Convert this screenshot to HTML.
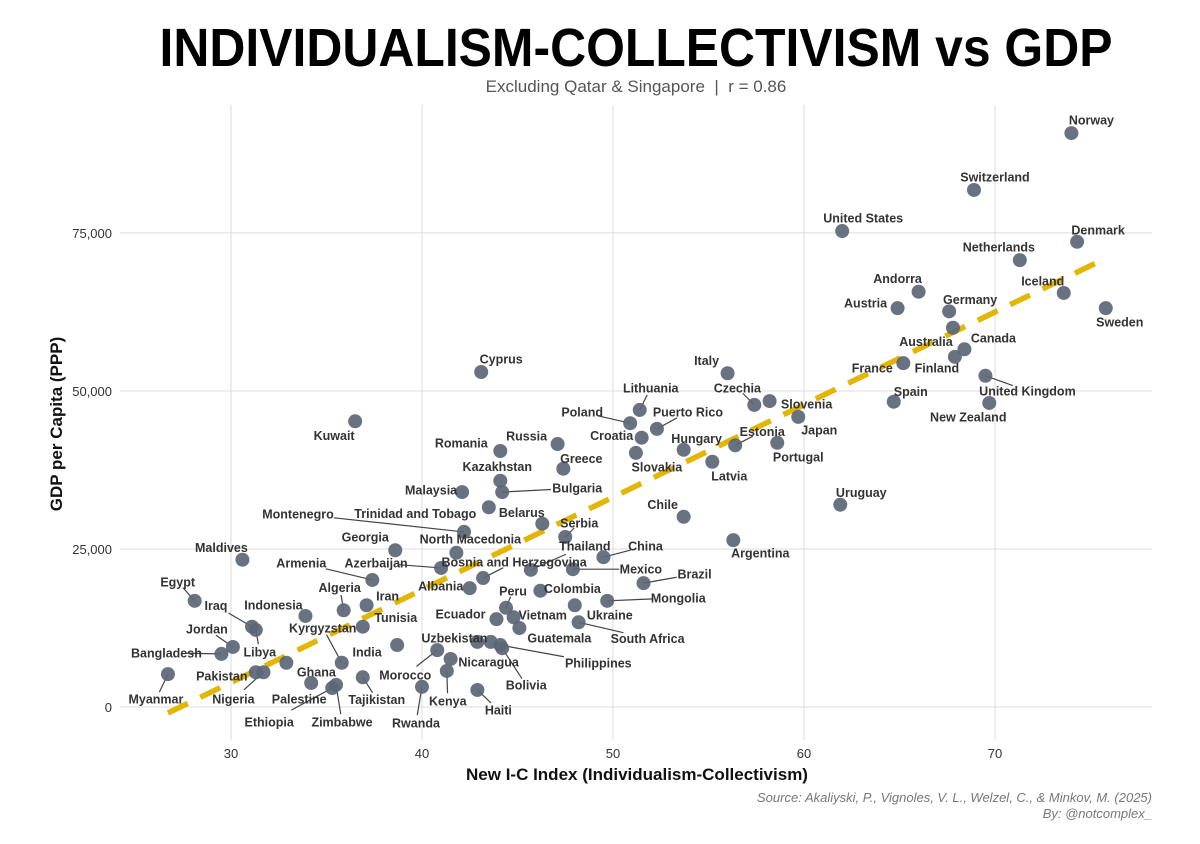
<!DOCTYPE html>
<html><head><meta charset="utf-8"><style>
html,body{margin:0;padding:0;background:#fff;}
svg{display:block;font-family:"Liberation Sans",sans-serif;}
</style></head><body>
<svg id="chart" width="1200" height="844" viewBox="0 0 1200 844" xmlns="http://www.w3.org/2000/svg">
<rect width="1200" height="844" fill="#fff"/>
<text x="636" y="66" text-anchor="middle" font-size="54" font-weight="bold" fill="#000" textLength="953" lengthAdjust="spacingAndGlyphs">INDIVIDUALISM-COLLECTIVISM vs GDP</text>
<text x="636" y="92" text-anchor="middle" font-size="17" fill="#555">Excluding Qatar &amp; Singapore &#160;|&#160; r = 0.86</text>
<g id="grid"></g>
<g id="axes"></g>
<g id="trend"></g>
<g id="leaders"></g>
<g id="points"></g>
<g id="labels"></g>
<text x="637" y="780" text-anchor="middle" font-size="17" font-weight="bold" fill="#111">New I-C Index (Individualism-Collectivism)</text>
<text transform="translate(62,424) rotate(-90)" text-anchor="middle" font-size="17" font-weight="bold" fill="#111">GDP per Capita (PPP)</text>
<text x="1152" y="802" text-anchor="end" font-size="13" font-style="italic" fill="#777">Source: Akaliyski, P., Vignoles, V. L., Welzel, C., &amp; Minkov, M. (2025)</text>
<text x="1152" y="818" text-anchor="end" font-size="13" font-style="italic" fill="#777">By: @notcomplex_</text>
</svg>
<script>
const countries = ["Norway","Switzerland","United States","Denmark","Netherlands","Andorra","Iceland","Austria","Germany","Sweden","Australia","Canada","Finland","France","United Kingdom","Spain","New Zealand","Italy","Cyprus","Kuwait","Lithuania","Poland","Puerto Rico","Croatia","Slovakia","Hungary","Latvia","Estonia","Portugal","Czechia","Slovenia","Japan","Russia","Romania","Greece","Kazakhstan","Bulgaria","Malaysia","Belarus","Uruguay","Chile","Argentina","Trinidad and Tobago","Serbia","Montenegro","North Macedonia","Georgia","Maldives","Thailand","Bosnia and Herzegovina","Azerbaijan","Mexico","China","Brazil","Armenia","Albania","Colombia","Ukraine","Mongolia","Peru","Ecuador","Vietnam","Guatemala","South Africa","Uzbekistan","","Philippines","Bolivia","Morocco","Nicaragua","Kenya","Haiti","Rwanda","Tajikistan","Ethiopia","Zimbabwe","India","Kyrgyzstan","Tunisia","Iran","Algeria","Indonesia","Egypt","Iraq","Libya","Jordan","Bangladesh","Myanmar","Pakistan","Nigeria","Ghana","Palestine"];
const icIndex = [74.0,68.9,62.0,74.3,71.3,66.0,73.6,64.9,67.6,75.8,67.8,68.4,67.9,65.2,69.5,64.7,69.7,56.0,43.1,36.5,51.4,50.9,52.3,51.5,51.2,53.7,55.2,56.4,58.6,57.4,58.2,59.7,47.1,44.1,47.4,44.1,44.2,42.1,43.5,61.9,53.7,56.3,46.3,47.5,42.2,41.8,38.6,30.6,45.7,43.2,41.0,47.9,49.5,51.6,37.4,42.5,46.2,48.0,49.7,44.4,43.9,44.8,45.1,48.2,42.9,43.6,44.1,44.2,40.8,41.5,41.3,42.9,40.0,36.9,35.3,35.5,38.7,35.8,36.9,37.1,35.9,33.9,28.1,31.1,31.3,30.1,29.5,26.7,31.3,31.7,32.9,34.2];
const gdp = [90800,81800,75300,73600,70700,65700,65500,63100,62600,63100,60000,56600,55400,54400,52400,48300,48100,52800,53000,45200,47000,44900,44000,42600,40200,40700,38800,41400,41800,47800,48400,45900,41600,40500,37700,35800,34000,34000,31600,32000,30100,26400,29000,26900,27700,24400,24800,23300,21700,20400,22000,21800,23700,19600,20100,18800,18400,16100,16800,15700,13900,14200,12500,13400,10300,10300,9800,9300,9000,7600,5700,2700,3200,4700,3000,3500,9800,7000,12700,16100,15300,14400,16800,12700,12200,9500,8400,5200,5500,5500,7000,3800];
// label placement (pixel offsets from point, text centre) and whether a leader line is drawn
const labelDx = [20,21,21,21,-21,-21,-21,-32,21,14,-27,29,-18,-31,42,17,-21,-21,20,-21,11,-48,31,-30,21,13,17,27,21,-17,37,21,-31,-39,18,-3,75,-31,33,21,-21,27,-127,14,-166,14,-30,-21,54,31,-65,68,42,51,-71,-29,32,35,71,7,-36,29,40,69,-23,0,98,24,-32,38,1,21,-6,14,-63,6,-30,-19,33,21,-4,-32,-17,-36,4,-26,-55,-12,-34,-30,30,-12];
const labelDy = [-13,-13,-13,-12,-13,-13,-12,-5,-12,14,14,-11,11,5,15,-10,14,-13,-13,14,-22,-11,-17,-2,14,-11,14,-14,14,-17,3,13,-8,-8,-10,-14,-4,-2,5,-12,-12,13,-10,-14,-18,-14,-13,-12,-24,-16,-5,0,-11,-9,-17,-2,-2,10,-3,-17,-5,-2,10,16,-4,0,18,37,25,3,30,20,36,22,34,37,7,-35,-9,-9,-23,-11,-19,-21,22,-18,-1,25,4,27,9,16];
const leader = [0,0,0,0,0,0,0,0,0,0,0,0,0,0,1,0,0,0,0,0,1,1,1,0,0,0,0,1,0,1,0,0,0,0,0,0,1,0,0,0,0,0,0,1,1,0,0,0,1,1,1,1,1,1,1,0,0,0,1,1,0,0,0,1,0,0,1,1,1,0,1,1,1,1,1,1,0,1,0,0,1,0,1,1,1,1,1,1,0,1,0,0];
const xTicks = [30,40,50,60,70];
const yTicks = [0,25000,50000,75000];
const yTickLabels = ["0","25,000","50,000","75,000"];
const trendX = [26.7,75.4];
const trendY = [-950,70400];

const NS="http://www.w3.org/2000/svg";
const X0=120,X1=1152,Y0=740,Y1=105;
const xMin=24.19,xMax=78.22,yMin=-5220,yMax=95240;
function sx(v){return X0+(v-xMin)/(xMax-xMin)*(X1-X0);}
function sy(v){return Y0-(v-yMin)/(yMax-yMin)*(Y0-Y1);}
function mk(tag,attrs,parent){const e=document.createElementNS(NS,tag);for(const k in attrs)e.setAttribute(k,attrs[k]);parent.appendChild(e);return e;}

const grid=document.getElementById('grid'),axes=document.getElementById('axes');
xTicks.forEach(t=>{
  const l=mk('line',{x1:sx(t),x2:sx(t),y1:Y1,y2:Y0,stroke:'#dcdcdc','stroke-width':1},grid);
  
  
  const tx=mk('text',{x:sx(t),y:758,'text-anchor':'middle','font-size':13,fill:'#333'},axes);
  tx.textContent=t;
  
  
});
yTicks.forEach((t,i)=>{
  const l=mk('line',{x1:X0,x2:X1,y1:sy(t),y2:sy(t),stroke:'#dcdcdc','stroke-width':1},grid);
  
  
  const tx=mk('text',{x:112,y:sy(t)+5,'text-anchor':'end','font-size':13,fill:'#333'},axes);
  tx.textContent=yTickLabels[i];
  
  
});
const tl=mk('line',{x1:sx(trendX[0]),y1:sy(trendY[0]),x2:sx(trendX[1]),y2:sy(trendY[1]),stroke:'#e3b505','stroke-width':5.5,'stroke-dasharray':'22 14'},document.getElementById('trend'));



const pts=document.getElementById('points'),labs=document.getElementById('labels'),lead=document.getElementById('leaders');
countries.forEach((c,i)=>{
  const px=sx(icIndex[i]),py=sy(gdp[i]);
  const p=mk('circle',{cx:px,cy:py,r:7,fill:'#5b6676','fill-opacity':0.92},pts);
  
  
  if(!c)return;
  const lx=px+labelDx[i],ly=py+labelDy[i];
  if(leader[i]){
    const dx=labelDx[i],dy=labelDy[i];
    const len=Math.hypot(dx,dy);
    const ex=lx-dx/len*Math.min(len*0.35,6*(Math.abs(dx)>Math.abs(dy)?c.length*0.6:1.3));
    const ey=ly-dy/len*Math.min(len*0.35,6*(Math.abs(dx)>Math.abs(dy)?c.length*0.6:1.3));
    const ln=mk('line',{x1:px,y1:py,x2:ex,y2:ey,stroke:'#444','stroke-width':1.2},lead);
    
    
  }
  const t=mk('text',{x:lx,y:ly+4.5,'text-anchor':'middle','font-size':12.5,'font-weight':'bold',fill:'#333'},labs);
  t.textContent=c;
  
  
});
</script>
</body></html>
